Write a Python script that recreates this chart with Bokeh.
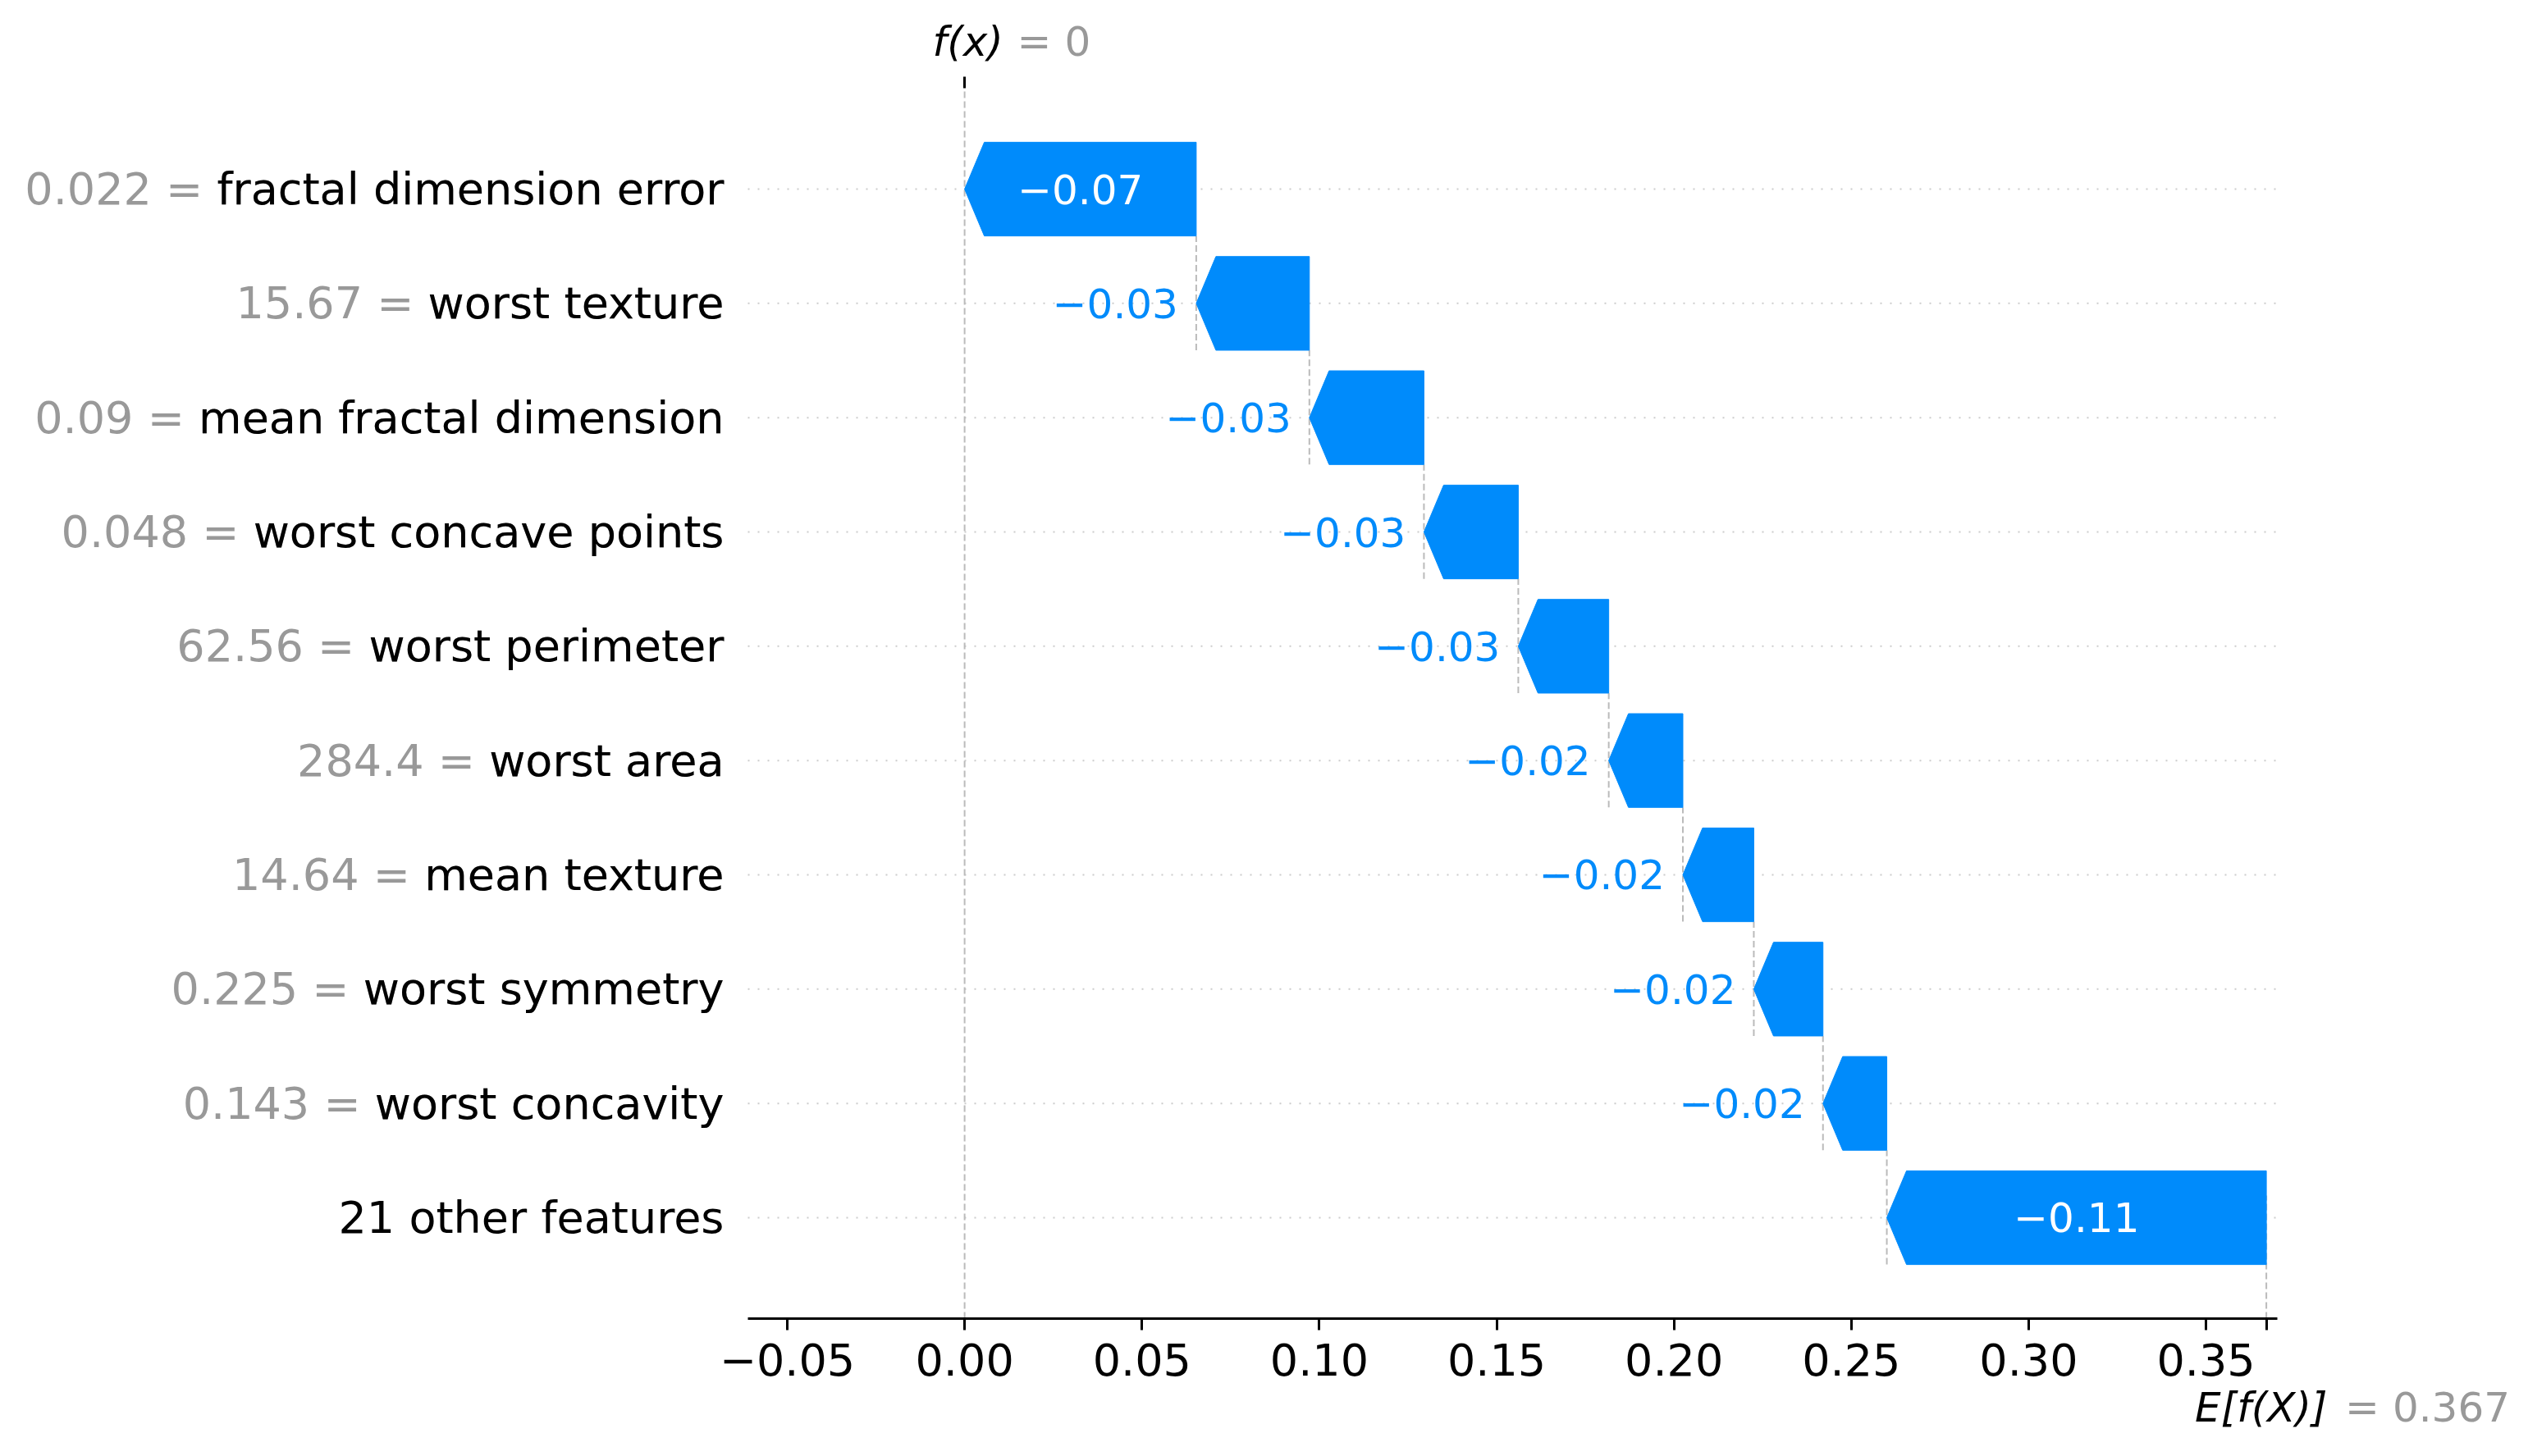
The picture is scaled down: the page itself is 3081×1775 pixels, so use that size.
import re
from bokeh.plotting import figure
from bokeh.models import Range1d, Label, FixedTicker, LinearAxis
from bokeh.embed import file_html
from bokeh.resources import INLINE

# ---------------- data ----------------
feature_names = [
    "fractal dimension error",
    "worst texture",
    "mean fractal dimension",
    "worst concave points",
    "worst perimeter",
    "worst area",
    "mean texture",
    "worst symmetry",
    "worst concavity",
    "21 other features",
]
feature_values = [0.022, 15.67, 0.09, 0.048, 62.56, 284.4, 14.64, 0.225, 0.143, None]
shap_values = [-0.0653, -0.0319, -0.0323, -0.0266, -0.0255, -0.0209, -0.0200, -0.0195, -0.0180, -0.1070]
base_value = 0.367
x_ticks = [-0.05, 0.0, 0.05, 0.10, 0.15, 0.20, 0.25, 0.30, 0.35]

# ---------------- style ----------------
BLUE = "#008bfb"
GRAY = "#999999"
FONT = "DejaVu Sans"
TICK_FS = "54px"
TEXT_FS = "50px"


def format_value(s, fmt):
    if not isinstance(s, str):
        s = fmt % s
    s = re.sub(r"\.?0+$", "", s)
    if s[0] == "-":
        s = "\u2212" + s[1:]
    return s


def fmt_tick(t):
    return ("%0.2f" % t).replace("-", "\u2212")


N = len(feature_names)
fx = round(base_value + sum(shap_values), 10) + 0.0

# axes-box limits (data) and its pixel geometry on the canvas
X0, X1 = -0.0611, 0.3701
Y0, Y1 = -0.883, N - 1 + 0.883
W, H = 3065, 1767
BOX_L, BOX_T, BOX_W, BOX_H = 911, 107, 1864, 1500
px_x = BOX_W / (X1 - X0)
px_y = BOX_H / (Y1 - Y0)
XL = X0 - BOX_L / px_x
XR = X1 + (W - BOX_L - BOX_W) / px_x
YT = Y1 + BOX_T / px_y
YB = Y0 - (H - BOX_T - BOX_H) / px_y

HALF = 0.41
HEAD = 24 / px_x

p = figure(
    frame_width=W, frame_height=H,
    x_range=Range1d(XL, XR), y_range=Range1d(YB, YT),
    output_backend="svg", toolbar_location=None,
    x_axis_location=None, y_axis_location=None,
    min_border=0, min_border_left=0, min_border_right=0,
    min_border_top=0, min_border_bottom=0,
)
p.outline_line_color = None
p.xgrid.grid_line_color = None
p.ygrid.grid_line_color = None
p.background_fill_color = "white"
p.border_fill_color = "white"

# bottom axis, fixed at the bottom of the axes box
ax = LinearAxis(fixed_location=Y0, bounds=(X0, X1),
                ticker=FixedTicker(ticks=x_ticks + [base_value]))
ax.major_label_overrides = {**{t: fmt_tick(t) for t in x_ticks}, base_value: ""}
ax.major_label_text_font = FONT
ax.major_label_text_font_size = TICK_FS
ax.major_label_text_color = "black"
ax.major_tick_out = 14
ax.major_tick_in = 0
ax.minor_tick_out = 0
ax.minor_tick_in = 0
ax.major_tick_line_width = 3
ax.axis_line_width = 3
ax.major_label_standoff = 16
p.add_layout(ax, "below")

# top axis: single tick at f(x)
top = LinearAxis(fixed_location=Y1, bounds=(X0, X1),
                 ticker=FixedTicker(ticks=[fx]), major_label_overrides={fx: ""})
top.axis_line_color = None
top.major_tick_out = 14
top.major_tick_in = 0
top.minor_tick_out = 0
top.minor_tick_in = 0
top.major_tick_line_width = 3
top.major_label_text_font_size = "1px"
p.add_layout(top, "above")

# row grid lines (dotted)
rows_all = list(range(N))
p.segment(x0=[X0] * N, y0=rows_all, x1=[X1] * N, y1=rows_all,
          line_color="#cccccc", line_width=2, line_dash="2 10")

# compute bars
starts, ends, rows = [], [], []
cum = fx
for k, v in enumerate(shap_values):
    start = cum
    end = cum - v
    starts.append(start)
    ends.append(end)
    rows.append(N - 1 - k)
    cum = end

# dashed connectors
sx0, sy0, sx1, sy1 = [], [], [], []
for k in range(1, N):
    sx0.append(starts[k]); sx1.append(starts[k])
    sy0.append(rows[k] - HALF); sy1.append(rows[k] + 1 - HALF)
# f(x) and E[f(X)] lines
sx0 += [fx, base_value]; sx1 += [fx, base_value]
sy0 += [Y0, Y0]; sy1 += [Y1, Y0 + 0.1 * (Y1 - Y0)]
p.segment(x0=sx0, y0=sy0, x1=sx1, y1=sy1, line_color="#bbbbbb",
          line_width=2, line_dash="8 4")

# arrows
xs, ys = [], []
for k in range(N):
    s, e, y = starts[k], ends[k], rows[k]
    d = 1 if s > e else -1
    hl = min(HEAD, abs(s - e))
    xs.append([e, s - d * hl, s, s - d * hl, e])
    ys.append([y + HALF, y + HALF, y, y - HALF, y - HALF])
p.patches(xs=xs, ys=ys, fill_color=BLUE, line_color=BLUE, line_width=1)

# bar labels
for k in range(N):
    txt = ("%0.2f" % shap_values[k]).replace("-", "\u2212")
    bar_px = abs(ends[k] - starts[k]) * px_x
    est_w = len(txt) * 0.62 * 50
    if bar_px > est_w + 20:
        lab = Label(x=(starts[k] + ends[k]) / 2, y=rows[k], text=txt,
                    text_align="center", text_baseline="middle",
                    text_color="white", text_font=FONT, text_font_size=TEXT_FS)
    else:
        d = 1 if starts[k] > ends[k] else -1
        off = 22 / px_x
        lab = Label(x=starts[k] - off if d < 0 else starts[k] + off, y=rows[k], text=txt,
                    text_align="right" if d < 0 else "left", text_baseline="middle",
                    text_color=BLUE, text_font=FONT, text_font_size=TEXT_FS)
    p.add_layout(lab)

# y labels (gray full label, black name drawn on top)
ylab_x = X0 - 29 / px_x
for k in range(N):
    name = feature_names[k]
    fv = feature_values[k]
    if fv is not None:
        full = format_value(fv, "%0.03f") + " = " + name
        p.add_layout(Label(x=ylab_x, y=rows[k], text=full,
                           text_align="right", text_baseline="middle",
                           text_color=GRAY, text_font=FONT, text_font_size=TICK_FS))
    p.add_layout(Label(x=ylab_x, y=rows[k], text=name,
                       text_align="right", text_baseline="middle",
                       text_color="black", text_font=FONT, text_font_size=TICK_FS))

# f(x) label above the box
y_top = Y1 + 57 / px_y
p.add_layout(Label(x=fx - 39 / px_x, y=y_top, text="f(x)", text_font_style="italic",
                   text_align="left", text_baseline="alphabetic",
                   text_color="black", text_font=FONT, text_font_size=TEXT_FS))
p.add_layout(Label(x=fx + 64 / px_x, y=y_top, text="= " + format_value(fx, "%0.03f"),
                   text_align="left", text_baseline="alphabetic",
                   text_color=GRAY, text_font=FONT, text_font_size=TEXT_FS))

# E[f(X)] label below the axis
y_bot = Y0 - 108 / px_y
p.add_layout(Label(x=base_value - 87 / px_x, y=y_bot, text="E[f(X)]", text_font_style="italic",
                   text_align="left", text_baseline="alphabetic",
                   text_color="black", text_font=FONT, text_font_size=TEXT_FS))
p.add_layout(Label(x=base_value + 96 / px_x, y=y_bot, text="= " + format_value(base_value, "%0.03f"),
                   text_align="left", text_baseline="alphabetic",
                   text_color=GRAY, text_font=FONT, text_font_size=TEXT_FS))

open("out.html", "w").write(file_html(p, INLINE))
